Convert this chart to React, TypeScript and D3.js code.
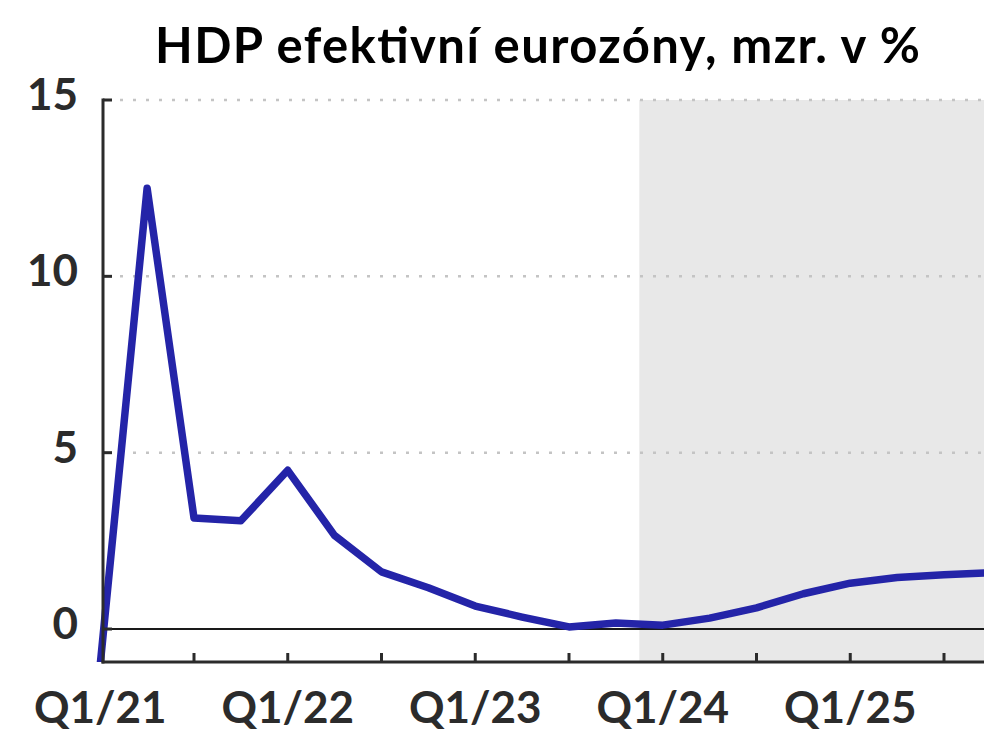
import React from "react";
import * as d3 from "d3";

const quarters = [
  "Q1/21", "Q2/21", "Q3/21", "Q4/21",
  "Q1/22", "Q2/22", "Q3/22", "Q4/22",
  "Q1/23", "Q2/23", "Q3/23", "Q4/23",
  "Q1/24", "Q2/24", "Q3/24", "Q4/24",
  "Q1/25", "Q2/25", "Q3/25", "Q4/25",
];
const gdp = [
  -1.0, 12.5, 3.15, 3.07,
  4.5, 2.65, 1.62, 1.17,
  0.65, 0.34, 0.06, 0.17,
  0.11, 0.31, 0.6, 1.0,
  1.3, 1.46, 1.54, 1.6,
];
const yTicks = [0, 5, 10, 15];
const gridTicks = [5, 10, 15];
const xLabelQuarters = ["Q1/21", "Q1/22", "Q1/23", "Q1/24", "Q1/25"];
const forecastStart = "Q1/24";
const title = "HDP efektivní eurozóny, mzr. v %";

const W = 984;
const H = 731;
const FONT = "Lato, 'Open Sans', sans-serif";

export default function App() {
  const x = d3
    .scalePoint<string>()
    .domain(quarters)
    .range([100.25, 100.25 + 46.875 * (quarters.length - 1)]);
  const y = d3.scaleLinear().domain([-0.935, 15]).range([662, 100]);
  const step = x.step();
  const axisX = 103;
  const bottom = y(-0.935);

  const line = d3
    .line<number>()
    .x((_, i) => x(quarters[i]) as number)
    .y((d) => y(d));

  const fcX = (x(forecastStart) as number) - step / 2;
  const tickQuarters = quarters.filter((_, i) => i % 2 === 0 && i > 0);

  return (
    <svg
      width={W}
      height={H}
      style={{ position: "absolute", left: 0, top: 0, display: "block" }}
    >
      <defs>
        <clipPath id="plot">
          <rect x={0} y={0} width={W} height={bottom} />
        </clipPath>
      </defs>
      <rect x={0} y={0} width={W} height={H} fill="#ffffff" />
      <rect x={fcX} y={y(15)} width={W - fcX} height={bottom - y(15)} fill="#e8e8e8" />
      {gridTicks.map((t) => (
        <line
          key={t}
          x1={axisX + 17}
          x2={W}
          y1={y(t)}
          y2={y(t)}
          stroke="#c4c4c4"
          strokeWidth={2.5}
          strokeDasharray="3 10"
        />
      ))}
      <line x1={axisX} x2={W} y1={y(0)} y2={y(0)} stroke="#1a1a1a" strokeWidth={2} />
      <path
        d={line(gdp) || ""}
        fill="none"
        stroke="#2424a8"
        strokeWidth={7.5}
        strokeLinejoin="round"
        strokeLinecap="round"
        clipPath="url(#plot)"
      />
      <line x1={axisX} x2={axisX} y1={y(15) - 1.5} y2={bottom + 1.5} stroke="#2b2b2b" strokeWidth={3} />
      <line x1={axisX - 1.5} x2={W} y1={bottom} y2={bottom} stroke="#2b2b2b" strokeWidth={3} />
      {yTicks.map((t) => (
        <g key={t}>
          <line x1={axisX} x2={axisX + 9} y1={y(t)} y2={y(t)} stroke="#2b2b2b" strokeWidth={3} />
          <text
            x={78}
            y={y(t) + 10}
            textAnchor="end"
            fontFamily={FONT}
            fontWeight={700}
            fontSize={44}
            fill="#2b2b2b"
          >
            {t}
          </text>
        </g>
      ))}
      {tickQuarters.map((q) => (
        <line
          key={q}
          x1={x(q) as number}
          x2={x(q) as number}
          y1={bottom}
          y2={bottom - 9}
          stroke="#2b2b2b"
          strokeWidth={3}
        />
      ))}
      {xLabelQuarters.map((q) => (
        <text
          key={q}
          x={x(q) as number}
          y={723}
          textAnchor="middle"
          fontFamily={FONT}
          fontWeight={700}
          fontSize={44}
          fill="#2b2b2b"
        >
          {q}
        </text>
      ))}
      <text
        x={155}
        y={63}
        fontFamily={FONT}
        fontWeight={700}
        fontSize={49}
        textLength={765}
        lengthAdjust="spacing"
        fill="#000000"
      >
        {title}
      </text>
    </svg>
  );
}
